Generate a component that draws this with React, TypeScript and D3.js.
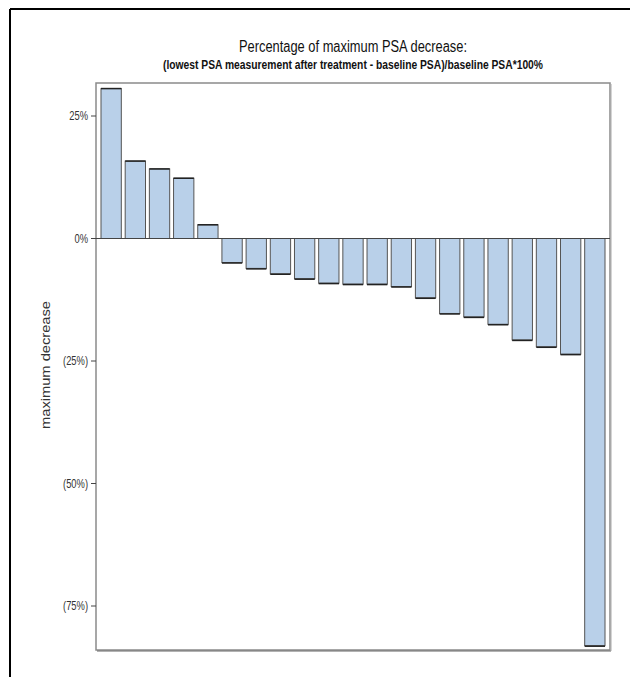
import React from "react";
import * as d3 from "d3";

const patients = d3.range(1, 22).map((i) => `P${i}`);
const maxDecrease = [
  30.6, 15.8, 14.2, 12.3, 2.8, -4.9, -6.1, -7.2, -8.2, -9.1, -9.3, -9.3, -9.8,
  -12.1, -15.3, -16.0, -17.5, -20.7, -22.1, -23.6, -83.1,
];
const yTicks = [25, 0, -25, -50, -75];
const tickLabel = (v: number) => (v < 0 ? `(${Math.abs(v)}%)` : `${v}%`);

const W = 630;
const H = 677;
const plot = { left: 96, right: 610, top: 83, bottom: 650 };
const narrow = "'Liberation Sans Narrow', 'Arial Narrow', 'Liberation Sans', Arial, sans-serif";

export default function App() {
  const x = d3
    .scaleBand<string>()
    .domain(patients)
    .range([plot.left + 5, plot.right - 5])
    .paddingInner(0.16)
    .paddingOuter(0);
  const y = d3.scaleLinear().domain([25, -75]).range([116, 606]);
  const y0 = y(0);

  return (
    <svg
      width={W}
      height={H}
      style={{ position: "absolute", left: 0, top: 0, background: "#fff" }}
    >
      <rect x={0} y={0} width={W} height={H} fill="#fff" />
      {/* outer frame (cropped at right/bottom) */}
      <line x1={10} y1={9} x2={W} y2={9} stroke="#000" strokeWidth={2} />
      <line x1={10} y1={9} x2={10} y2={H} stroke="#000" strokeWidth={2} />

      {/* titles */}
      <text
        x={(plot.left + plot.right) / 2}
        y={52}
        textAnchor="middle"
        fontFamily={narrow}
        fontSize={16}
        fill="#111"
        textLength={228}
        lengthAdjust="spacingAndGlyphs"
      >
        Percentage of maximum PSA decrease:
      </text>
      <text
        x={(plot.left + plot.right) / 2}
        y={69}
        textAnchor="middle"
        fontFamily={narrow}
        fontWeight="bold"
        fontSize={12.5}
        fill="#111"
        textLength={380}
        lengthAdjust="spacingAndGlyphs"
      >
        (lowest PSA measurement after treatment - baseline PSA)/baseline PSA*100%
      </text>

      {/* plot frame */}
      <rect
        x={plot.left}
        y={plot.top}
        width={plot.right - plot.left}
        height={plot.bottom - plot.top}
        fill="#fff"
        stroke="#8a8a8a"
        strokeWidth={1.5}
      />
      <line x1={plot.left + 1} y1={plot.bottom + 1} x2={plot.right + 1} y2={plot.bottom + 1} stroke="#666" strokeWidth={1} />
      <line x1={plot.right + 1} y1={plot.top + 1} x2={plot.right + 1} y2={plot.bottom + 1} stroke="#aaa" strokeWidth={1} />

      {/* bars */}
      {maxDecrease.map((v, i) => {
        const bx = x(patients[i])!;
        const top = Math.min(y(v), y0);
        const h = Math.abs(y(v) - y0);
        const edge = y(v);
        return (
          <g key={i}>
            <rect
              x={bx}
              y={top}
              width={x.bandwidth()}
              height={h}
              fill="#b9d0e9"
              stroke="#555"
              strokeWidth={1}
            />
            <line
              x1={bx}
              x2={bx + x.bandwidth()}
              y1={v >= 0 ? edge : edge + 0.5}
              y2={v >= 0 ? edge : edge + 0.5}
              stroke="#222"
              strokeWidth={1.5}
            />
          </g>
        );
      })}

      {/* zero reference line */}
      <line x1={plot.left} x2={plot.right} y1={y0} y2={y0} stroke="#444" strokeWidth={1} />

      {/* y axis ticks */}
      {yTicks.map((t) => (
        <g key={t}>
          <line x1={plot.left - 5} x2={plot.left} y1={y(t)} y2={y(t)} stroke="#444" strokeWidth={1} />
          <text
            transform={`translate(${plot.left - 8}, ${y(t)}) scale(0.78, 1)`}
            dy="0.35em"
            textAnchor="end"
            fontFamily={narrow}
            fontSize={12}
            fill="#333"
          >
            {tickLabel(t)}
          </text>
        </g>
      ))}

      {/* y axis label */}
      <text
        transform={`translate(46, 365) rotate(-90)`}
        dy="0.35em"
        textAnchor="middle"
        fontFamily="'Liberation Sans', Arial, sans-serif"
        fontSize={12}
        fill="#333"
        textLength={128}
        lengthAdjust="spacingAndGlyphs"
      >
        maximum decrease
      </text>
    </svg>
  );
}
